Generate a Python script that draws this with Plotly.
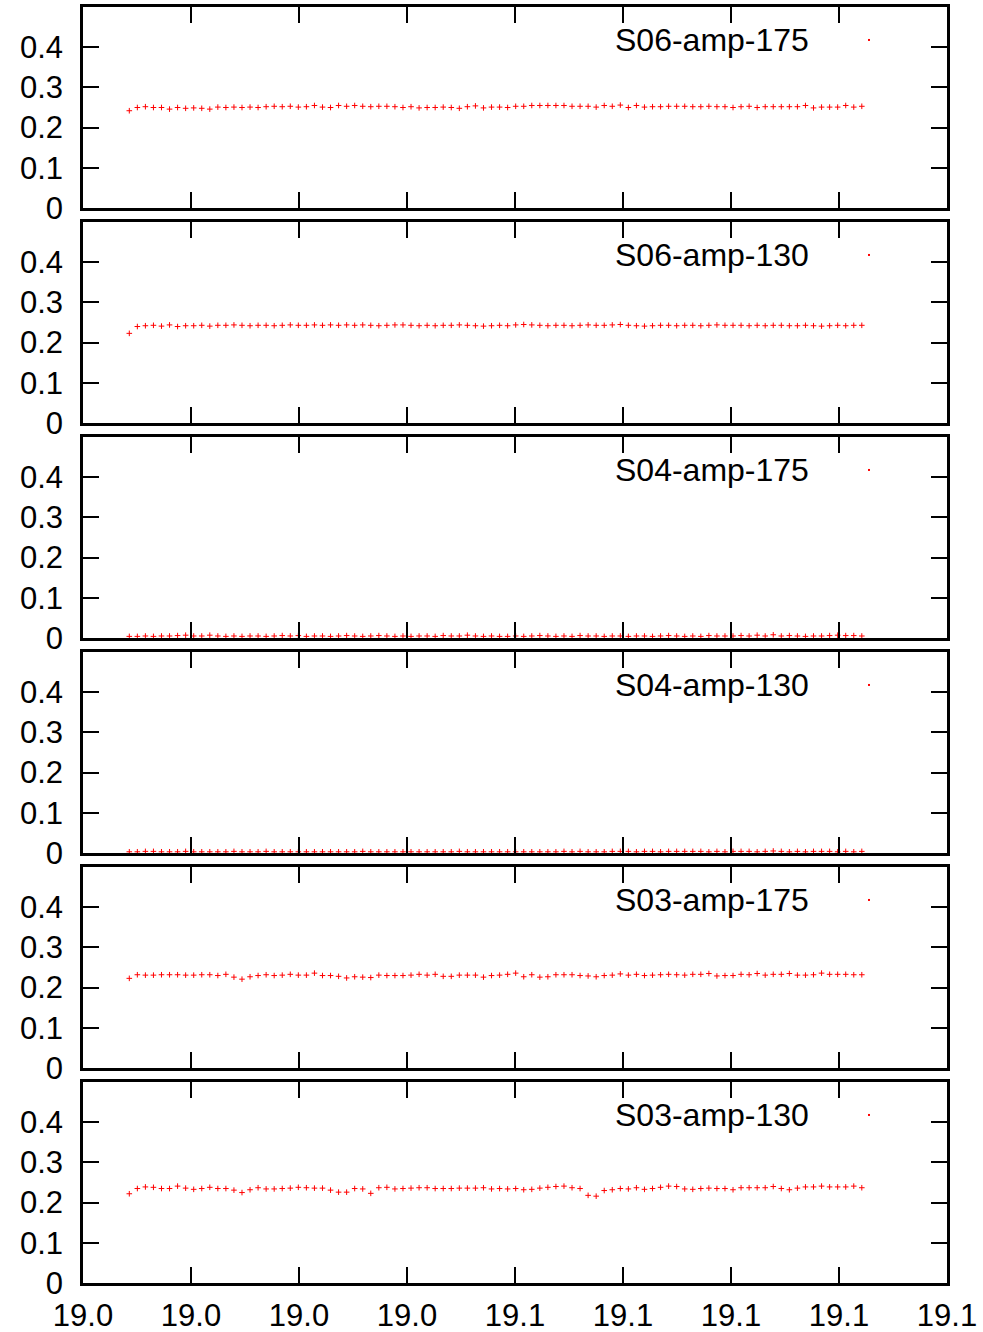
import plotly.graph_objects as go
from plotly.subplots import make_subplots

# ---------------- data ----------------
series_names = ["S06-amp-175", "S06-amp-130", "S04-amp-175",
                "S04-amp-130", "S03-amp-175", "S03-amp-130"]

x_start = 19.00643   # first sample position
x_step = 0.001118    # sampling interval

s06_amp_175 = [
    0.242, 0.250, 0.252, 0.250, 0.250, 0.246, 0.250, 0.248, 0.249, 0.248, 0.246, 0.251, 0.250, 0.251, 0.250,
    0.251, 0.250, 0.252, 0.253, 0.252, 0.253, 0.251, 0.252, 0.255, 0.251, 0.250, 0.255, 0.253, 0.255, 0.253,
    0.252, 0.253, 0.253, 0.252, 0.250,
    0.252, 0.249, 0.250, 0.250, 0.251, 0.250, 0.248, 0.252, 0.254, 0.249, 0.251, 0.251, 0.250, 0.253, 0.253,
    0.255, 0.255, 0.255, 0.255, 0.255, 0.253, 0.253, 0.253, 0.251, 0.255, 0.253, 0.256, 0.250, 0.255, 0.251,
    0.252, 0.252, 0.253, 0.253, 0.253, 0.252, 0.252, 0.253, 0.252, 0.252,
    0.250, 0.252, 0.253, 0.250, 0.252, 0.252, 0.252, 0.252, 0.252, 0.255, 0.249, 0.251, 0.251, 0.251, 0.255,
    0.251, 0.253,
]

s06_amp_130 = [
    0.223, 0.240, 0.242, 0.243, 0.241, 0.244, 0.240, 0.242, 0.242, 0.243, 0.241, 0.243, 0.243, 0.244, 0.243,
    0.242, 0.243, 0.243, 0.242, 0.243, 0.244, 0.243, 0.243, 0.244, 0.243, 0.244, 0.243, 0.244, 0.243, 0.244,
    0.243, 0.242, 0.243, 0.244, 0.244, 0.243, 0.242, 0.243, 0.242, 0.243, 0.243, 0.244, 0.243, 0.242, 0.241,
    0.242, 0.243, 0.242, 0.244, 0.245, 0.244, 0.243, 0.242, 0.243, 0.243, 0.242, 0.243, 0.244, 0.243, 0.243,
    0.244, 0.245, 0.243, 0.242, 0.241, 0.242, 0.243, 0.243, 0.242, 0.243, 0.243, 0.242, 0.243, 0.244, 0.243,
    0.243, 0.243, 0.242, 0.243, 0.242, 0.243, 0.243, 0.242, 0.242, 0.243, 0.242, 0.241, 0.242, 0.243, 0.242,
    0.243, 0.243,
]

s04_amp_175 = [
    0.004, 0.004, 0.005, 0.004, 0.005, 0.005, 0.006, 0.007, 0.005, 0.005, 0.007, 0.005, 0.004, 0.005, 0.004,
    0.005, 0.005, 0.004, 0.005, 0.006, 0.005, 0.006, 0.004, 0.005, 0.005, 0.004, 0.005, 0.006, 0.005, 0.004,
    0.005, 0.006, 0.005, 0.004, 0.005, 0.004, 0.005, 0.005, 0.004, 0.006, 0.005, 0.005, 0.007, 0.005, 0.004,
    0.005, 0.004, 0.004, 0.005, 0.004, 0.005, 0.006, 0.005, 0.004, 0.005, 0.004, 0.006, 0.005, 0.005, 0.004,
    0.005, 0.005, 0.004, 0.005, 0.005, 0.004, 0.005, 0.006, 0.005, 0.004, 0.005, 0.004, 0.006, 0.005, 0.005,
    0.005, 0.006, 0.005, 0.007, 0.005, 0.008, 0.005, 0.006, 0.005, 0.004, 0.005, 0.005, 0.006, 0.007, 0.006,
    0.006, 0.005,
]

s04_amp_130 = [
    0.003, 0.003, 0.004, 0.004, 0.003, 0.003, 0.003, 0.004, 0.003, 0.003, 0.003, 0.003, 0.003, 0.004, 0.003,
    0.003, 0.003, 0.004, 0.003, 0.003, 0.003, 0.003, 0.003, 0.003, 0.003, 0.003, 0.003, 0.003, 0.003, 0.004,
    0.003, 0.003, 0.003, 0.003, 0.003, 0.003, 0.003, 0.003, 0.003, 0.003, 0.003, 0.004, 0.003, 0.003, 0.003,
    0.003, 0.003, 0.003, 0.003, 0.003, 0.003, 0.003, 0.003, 0.003, 0.004, 0.003, 0.004, 0.003, 0.003, 0.003,
    0.004, 0.004, 0.004, 0.003, 0.004, 0.004, 0.003, 0.004, 0.004, 0.004, 0.004, 0.004, 0.003, 0.004, 0.003,
    0.004, 0.004, 0.004, 0.003, 0.004, 0.005, 0.004, 0.003, 0.004, 0.003, 0.004, 0.004, 0.004, 0.003, 0.004,
    0.003, 0.004,
]

s03_amp_175 = [
    0.223, 0.232, 0.231, 0.231, 0.232, 0.232, 0.232, 0.231, 0.231, 0.232, 0.232, 0.230, 0.233, 0.226, 0.221,
    0.227, 0.230, 0.232, 0.230, 0.231, 0.233, 0.231, 0.231, 0.236, 0.230, 0.230, 0.228, 0.224, 0.227, 0.226,
    0.225, 0.231, 0.230, 0.230, 0.230, 0.231, 0.233, 0.231, 0.233, 0.228, 0.228, 0.231, 0.231, 0.231, 0.226,
    0.230,
    0.231, 0.233, 0.236, 0.227, 0.232, 0.226, 0.227, 0.232, 0.232, 0.232, 0.230, 0.229, 0.227, 0.230, 0.231,
    0.234, 0.231, 0.233, 0.230, 0.231, 0.232, 0.233, 0.232, 0.231, 0.233, 0.233, 0.235, 0.229, 0.230, 0.230,
    0.233, 0.232, 0.235, 0.231, 0.233, 0.233, 0.235, 0.231, 0.231, 0.232, 0.236, 0.233, 0.233, 0.233, 0.232,
    0.232,
]

s03_amp_130 = [
    0.222, 0.235, 0.239, 0.238, 0.235, 0.235, 0.241, 0.236, 0.233, 0.235, 0.238, 0.235, 0.235, 0.231, 0.225,
    0.232, 0.237, 0.234, 0.234, 0.235, 0.236, 0.238, 0.237, 0.236, 0.236, 0.231, 0.226, 0.226, 0.235, 0.234,
    0.223, 0.237, 0.238, 0.234,
    0.235, 0.236, 0.237, 0.237, 0.235, 0.235, 0.235, 0.236, 0.236, 0.236, 0.237, 0.234, 0.235, 0.234, 0.235,
    0.232, 0.233, 0.236, 0.238, 0.240, 0.241, 0.237, 0.235, 0.218, 0.216, 0.230, 0.232, 0.235, 0.234, 0.237,
    0.233, 0.235, 0.238, 0.241, 0.240, 0.234, 0.233, 0.235, 0.236, 0.235, 0.235,
    0.232, 0.237, 0.237, 0.237, 0.237, 0.240, 0.235, 0.232, 0.236, 0.239, 0.239, 0.241, 0.239, 0.239, 0.239,
    0.241, 0.237,
]

all_series = [s06_amp_175, s06_amp_130, s04_amp_175, s04_amp_130, s03_amp_175, s03_amp_130]

y_tick_values = [0, 0.1, 0.2, 0.3, 0.4]
y_range = [0, 0.5]
x_range = [19.0, 19.12]
x_tick_step = 0.015

# ---------------- figure ----------------
W, H = 983, 1332
ml, mr, mt, mb = 83, 36, 7, 49
plot_h = H - mt - mb
gap = 14

font_family = "Liberation Sans, Arial, sans-serif"
fs = 31

fig = make_subplots(rows=6, cols=1, shared_xaxes=True,
                    vertical_spacing=gap / plot_h)

for i, (name, vals) in enumerate(zip(series_names, all_series)):
    xs = [x_start + k * x_step for k in range(len(vals))]
    fig.add_trace(go.Scatter(
        x=xs, y=vals, mode="markers", name=name, showlegend=False,
        marker=dict(symbol="cross-thin", size=4, color="red",
                    line=dict(width=1.0, color="red")),
        cliponaxis=False, hoverinfo="skip",
    ), row=i + 1, col=1)

    suffix = "" if i == 0 else str(i + 1)
    # legend text
    fig.add_annotation(
        xref=f"x{suffix} domain", yref=f"y{suffix} domain",
        x=0.843, y=0.836, xanchor="right", yanchor="middle",
        text=name, showarrow=False,
        font=dict(family=font_family, size=32, color="black"),
    )
    # legend sample mark
    fig.add_shape(
        type="rect", xref=f"x{suffix} domain", yref=f"y{suffix} domain",
        xsizemode="pixel", ysizemode="pixel",
        xanchor=0.9097, yanchor=0.836,
        x0=-1, x1=1, y0=-1, y1=1,
        fillcolor="red", line=dict(width=0),
    )

axis_common = dict(
    showline=True, linewidth=2.5, linecolor="black", mirror="ticks",
    ticks="inside", ticklen=16, tickwidth=2, tickcolor="black",
    showgrid=False, zeroline=False, automargin=False,
    tickfont=dict(family=font_family, size=fs, color="black"),
)

for i in range(6):
    fig.update_yaxes(range=y_range, tickvals=y_tick_values,
                     ticklabelstandoff=11, **axis_common, row=i + 1, col=1)
    fig.update_xaxes(range=x_range, tick0=x_range[0], dtick=x_tick_step,
                     tickformat=".1f", ticklabelstandoff=3,
                     **axis_common, row=i + 1, col=1)

fig.update_layout(
    width=W, height=H,
    margin=dict(l=ml, r=mr, t=mt, b=mb, pad=0, autoexpand=False),
    paper_bgcolor="white", plot_bgcolor="white",
    font=dict(family=font_family, size=fs, color="black"),
    showlegend=False,
)

fig.write_html("out.html",
               config={"displayModeBar": False},
               post_script="document.body.style.margin='0';document.body.style.padding='0';")
